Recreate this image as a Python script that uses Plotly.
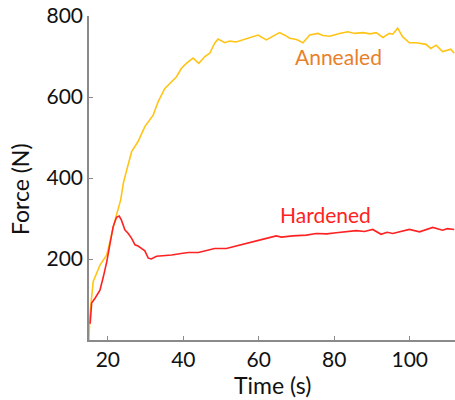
import plotly.graph_objects as go

annealed_t = [15.0, 15.2, 16.1, 17.9, 19.7, 21.9, 23.4, 24.1, 25.0, 26.3, 28.0, 29.8, 32.0, 33.3,
              35.1, 37.3, 38.2, 39.5, 40.8, 42.6, 44.1, 45.7, 47.0, 48.3, 49.2, 51.0, 52.3, 54.0,
              55.8, 57.6, 59.8, 62.0, 63.5, 65.5, 67.0, 68.2, 70.0, 71.7, 73.5, 75.7, 77.0, 78.8,
              81.4, 83.6, 85.4, 87.6, 89.5, 91.1, 92.9, 94.6, 95.5, 96.8, 98.1, 99.9, 101.7,
              104.3, 105.6, 107.0, 108.7, 110.9, 111.8]
annealed_f = [0, 57, 144, 185, 210, 296, 346, 387, 420, 465, 490, 527, 555, 588,
              621, 642, 650, 671, 683, 696, 683, 700, 708, 733, 743, 734, 738, 736,
              741, 745, 753, 741, 748, 759, 752, 745, 742, 734, 753, 757, 752, 750,
              757, 761, 757, 759, 756, 759, 747, 757, 755, 770, 749, 734, 734,
              730, 720, 728, 712, 718, 708]

hardened_t = [15.3, 15.5, 15.7, 16.6, 17.9, 18.8, 19.7, 20.6, 21.4, 22.3, 23.0, 23.6, 24.5,
              25.4, 26.3, 27.2, 28.0, 28.9, 29.8, 30.7, 31.5, 32.9, 35.0, 36.9, 39.0, 41.3,
              44.0, 46.6, 48.3, 51.4, 53.0, 55.0, 58.5, 60.0, 62.0, 64.6, 66.0, 69.0, 72.6,
              75.2, 78.0, 80.5, 83.0, 85.8, 88.0, 90.2, 92.4, 94.0, 95.5, 97.5, 99.9, 102.6,
              104.0, 106.1, 108.7, 110.0, 111.8]
hardened_f = [40, 85, 91, 103, 123, 156, 193, 239, 280, 303, 306, 296, 272,
              263, 251, 235, 232, 226, 220, 202, 200, 207, 208, 210, 213, 216,
              216, 222, 226, 226, 230, 235, 243, 247, 251, 257, 254, 257, 259,
              263, 262, 265, 268, 270, 268, 273, 261, 266, 263, 268, 273, 267,
              272, 278, 271, 275, 273]

x_ticks = [20, 40, 60, 80, 100]
y_ticks = [200, 400, 600, 800]

font_family = "Lato, 'Noto Sans', sans-serif"

fig = go.Figure()
fig.add_trace(go.Scatter(x=annealed_t, y=annealed_f, mode="lines",
                         line=dict(color="#FFC416", width=1.6), name="Annealed"))
fig.add_trace(go.Scatter(x=hardened_t, y=hardened_f, mode="lines",
                         line=dict(color="#FF2222", width=1.6), name="Hardened"))

fig.add_annotation(x=81, y=699, text="Annealed", showarrow=False,
                   xanchor="center", yanchor="middle",
                   font=dict(color="#E8802A", size=21, family=font_family))
fig.add_annotation(x=77.6, y=309, text="Hardened", showarrow=False,
                   xanchor="center", yanchor="middle",
                   font=dict(color="#FF2222", size=21, family=font_family))

fig.add_annotation(xref="paper", yref="paper", x=-0.1885, y=0.466, text="Force (N)",
                   textangle=-90, showarrow=False, xanchor="center", yanchor="middle",
                   font=dict(color="#111111", size=23, family=font_family))
fig.add_annotation(xref="paper", yref="paper", x=0.5, y=-0.14, text="Time (s)",
                   showarrow=False, xanchor="center", yanchor="middle",
                   font=dict(color="#111111", size=23, family=font_family))

axis_common = dict(showgrid=False, zeroline=False, showline=True, linecolor="#8a8a8a",
                   linewidth=1.5, ticks="inside", ticklen=4, tickcolor="#8a8a8a", tickwidth=1.2,
                   automargin=False,
                   tickfont=dict(size=21, color="#111111", family=font_family))

fig.update_xaxes(range=[15, 112], tickvals=x_ticks, **axis_common)
fig.update_yaxes(range=[0, 800], tickvals=y_ticks, **axis_common)

fig.update_layout(width=455, height=400, showlegend=False,
                  paper_bgcolor="white", plot_bgcolor="white",
                  margin=dict(l=89, r=0, t=16, b=60, autoexpand=False))

fig.write_html("out.html", config={"displayModeBar": False},
               post_script="document.body.style.margin='0';document.body.style.overflow='hidden';")
